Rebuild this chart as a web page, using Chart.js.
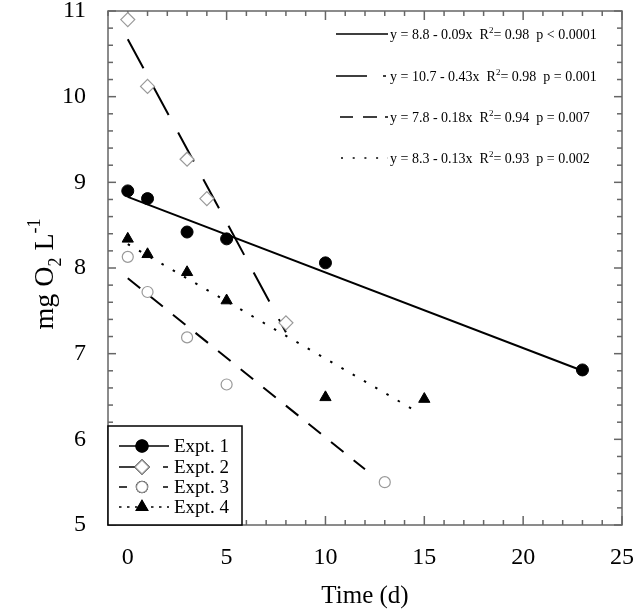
<!DOCTYPE html>
<html>
<head>
<meta charset="utf-8">
<script src="https://cdn.jsdelivr.net/npm/chart.js@4.4.0/dist/chart.umd.min.js"></script>
<style>
body { margin: 0; background: #fff; }
#wrap { width: 633px; height: 614px; position: relative; }
</style>
</head>
<body>
<div id="wrap"><canvas id="myChart"></canvas></div>
<script>
// measured points (Time in d, mg O2 per L)
const days1 = [0, 1, 3, 5, 10, 23];
const o2_1 = [8.90, 8.81, 8.42, 8.34, 8.06, 6.81];
const days2 = [0, 1, 3, 4, 8];
const o2_2 = [10.90, 10.12, 9.27, 8.81, 7.36];
const days3 = [0, 1, 3, 5, 13];
const o2_3 = [8.13, 7.72, 7.19, 6.64, 5.50];
const days4 = [0, 1, 3, 5, 10, 15];
const o2_4 = [8.34, 8.16, 7.95, 7.62, 6.49, 6.47];

// regression line ends
const fitX1 = [0, 23], fitY1 = [8.83, 6.80];
const fitX2 = [0, 8], fitY2 = [10.67, 7.25];
const fitX3 = [0, 12], fitY3 = [7.88, 5.65];
const fitX4 = [0, 14.5], fitY4 = [8.28, 6.34];

const xTicks = [0, 5, 10, 15, 20, 25];
const seriesNames = ['Expt. 1', 'Expt. 2', 'Expt. 3', 'Expt. 4'];
const eqMain = ['y = 8.8 - 0.09x  R', 'y = 10.7 - 0.43x  R', 'y = 7.8 - 0.18x  R', 'y = 8.3 - 0.13x  R'];
const eqRest = ['= 0.98  p < 0.0001', '= 0.98  p = 0.001', '= 0.94  p = 0.007', '= 0.93  p = 0.002'];

const FONT = '"Liberation Serif", "Times New Roman", serif';
const dashes = [[], [33, 20], [16, 13], [2.5, 10.5]];

function pts(xs, ys) { return xs.map((v, i) => ({x: v, y: ys[i]})); }

function fitSet(xs, ys, k) {
    return {
        data: pts(xs, ys), showLine: true, borderColor: '#000', borderWidth: 2,
        borderDash: dashes[k], pointRadius: 0, fill: false, order: 2
    };
}

const markers = [
    {pointStyle: 'circle', pointRadius: 6, pointBackgroundColor: '#000', pointBorderColor: '#000', pointBorderWidth: 1},
    {pointStyle: 'rectRot', pointRadius: 7, pointBackgroundColor: '#fff', pointBorderColor: '#999', pointBorderWidth: 1.2},
    {pointStyle: 'circle', pointRadius: 5.5, pointBackgroundColor: '#fff', pointBorderColor: '#999', pointBorderWidth: 1.2},
    {pointStyle: 'triangle', pointRadius: 6.5, pointBackgroundColor: '#000', pointBorderColor: '#000', pointBorderWidth: 1}
];

function pointSet(xs, ys, k) {
    return Object.assign({data: pts(xs, ys), showLine: false, order: 1, label: seriesNames[k]}, markers[k]);
}

function drawMarker(ctx, k, x, y) {
    const m = markers[k];
    Chart.helpers.drawPoint(ctx, {
        pointStyle: m.pointStyle, radius: m.pointRadius, rotation: 0, borderWidth: m.pointBorderWidth
    }, x, y);
    ctx.fillStyle = m.pointBackgroundColor;
    ctx.strokeStyle = m.pointBorderColor;
    ctx.lineWidth = m.pointBorderWidth;
    ctx.fill();
    ctx.stroke();
}

function seg(ctx, x1, y1, x2, y2) {
    ctx.beginPath(); ctx.moveTo(x1, y1); ctx.lineTo(x2, y2); ctx.stroke();
}

const frame = {
    id: 'frame',
    beforeDatasetsDraw(chart) {
        const {ctx, chartArea: a, scales: {x, y}} = chart;
        ctx.save();
        ctx.strokeStyle = '#666';
        ctx.lineWidth = 1.5;
        ctx.strokeRect(a.left, a.top, a.right - a.left, a.bottom - a.top);
        for (let v = -1; v <= 25; v++) {
            const px = x.getPixelForValue(v);
            const len = v % 5 === 0 ? 9 : 5;
            seg(ctx, px, a.bottom, px, a.bottom - len);
            seg(ctx, px, a.top, px, a.top + len);
        }
        for (let i = 0; i <= 30; i++) {
            const py = y.getPixelForValue(5 + i * 0.2);
            const len = i % 5 === 0 ? 8 : 5;
            seg(ctx, a.left, py, a.left + len, py);
            seg(ctx, a.right, py, a.right - len, py);
        }
        ctx.restore();
    },
    afterDatasetsDraw(chart) {
        const {ctx, chartArea: a} = chart;
        ctx.save();
        // lower-left legend box
        ctx.fillStyle = '#fff';
        ctx.fillRect(a.left, 426, 242 - a.left, a.bottom - 426);
        ctx.strokeStyle = '#000';
        ctx.lineWidth = 1.5;
        ctx.strokeRect(a.left, 426, 242 - a.left, a.bottom - 426);
        const rows = [446, 467, 487, 507];
        const legDash = [[], [21, 23, 5, 100], [8, 36, 5, 100], [2.5, 5.5]];
        ctx.font = '19px ' + FONT;
        ctx.textBaseline = 'middle';
        rows.forEach((ry, k) => {
            ctx.strokeStyle = '#000';
            ctx.lineWidth = 1.5;
            ctx.setLineDash(legDash[k]);
            seg(ctx, 119, ry, 169, ry);
            ctx.setLineDash([]);
            drawMarker(ctx, k, 142, ry);
            ctx.fillStyle = '#000';
            ctx.fillText(seriesNames[k], 174, ry + 1);
        });

        // upper-right equation key
        const eqRows = [34, 76, 117, 158];
        const sample = [[50, 0], [31, 16, 3, 50], [13, 10, 14, 8, 3, 50], [2, 9.7]];
        const sx = [336, 336, 340, 341];
        eqRows.forEach((ry, k) => {
            ctx.strokeStyle = '#000';
            ctx.lineWidth = 1.5;
            ctx.setLineDash(sample[k]);
            seg(ctx, sx[k], ry, 388, ry);
            ctx.setLineDash([]);
            ctx.fillStyle = '#000';
            ctx.textBaseline = 'alphabetic';
            let tx = 390;
            ctx.font = '14px ' + FONT;
            ctx.fillText(eqMain[k], tx, ry + 5);
            tx += ctx.measureText(eqMain[k]).width;
            ctx.font = '9px ' + FONT;
            ctx.fillText('2', tx, ry - 1);
            tx += ctx.measureText('2').width;
            ctx.font = '14px ' + FONT;
            ctx.fillText(eqRest[k], tx, ry + 5);
        });
        ctx.restore();
    },
    afterDraw(chart) {
        const {ctx, chartArea: a} = chart;
        ctx.save();
        ctx.translate(53, 274);
        ctx.rotate(-Math.PI / 2);
        ctx.fillStyle = '#000';
        ctx.textBaseline = 'alphabetic';
        const big = '28px ' + FONT, small = '18px ' + FONT;
        ctx.font = big;
        const w1 = ctx.measureText('mg O').width, w3 = ctx.measureText(' L').width;
        ctx.font = small;
        const w2 = ctx.measureText('2').width, w4 = ctx.measureText('-1').width;
        let tx = -(w1 + w2 + w3 + w4) / 2;
        ctx.font = big; ctx.fillText('mg O', tx, 0); tx += w1;
        ctx.font = small; ctx.fillText('2', tx, 8); tx += w2;
        ctx.font = big; ctx.fillText(' L', tx, 0); tx += w3;
        ctx.font = small; ctx.fillText('-1', tx, -13);
        ctx.restore();
    }
};

const ctx = document.getElementById('myChart').getContext('2d');
const myChart = new Chart(ctx, {
    type: 'scatter',
    data: {
        datasets: [
            fitSet(fitX1, fitY1, 0), fitSet(fitX2, fitY2, 1), fitSet(fitX3, fitY3, 2), fitSet(fitX4, fitY4, 3),
            pointSet(days1, o2_1, 0), pointSet(days2, o2_2, 1), pointSet(days3, o2_3, 2), pointSet(days4, o2_4, 3)
        ]
    },
    options: {
        responsive: true,
        maintainAspectRatio: false,
        animation: false,
        layout: {padding: 0},
        plugins: {legend: {display: false}, tooltip: {enabled: false}},
        scales: {
            x: {
                type: 'linear', min: -1, max: 25,
                afterBuildTicks: s => { s.ticks = xTicks.map(v => ({value: v})); },
                afterFit: s => { s.height = 89; s.paddingLeft = 0; s.paddingRight = 11; },
                grid: {display: false},
                border: {display: false},
                ticks: {font: {family: FONT, size: 24}, color: '#000', padding: 10, maxRotation: 0},
                title: {display: true, text: 'Time (d)', font: {family: FONT, size: 25}, color: '#000', padding: {top: 0, bottom: 3}}
            },
            y: {
                min: 5, max: 11,
                afterFit: s => { s.width = 108; s.paddingTop = 11; s.paddingBottom = 0; },
                grid: {display: false},
                border: {display: false},
                ticks: {stepSize: 1, font: {family: FONT, size: 24}, color: '#000', padding: 14}
            }
        }
    },
    plugins: [frame]
});
</script>
</body>
</html>
